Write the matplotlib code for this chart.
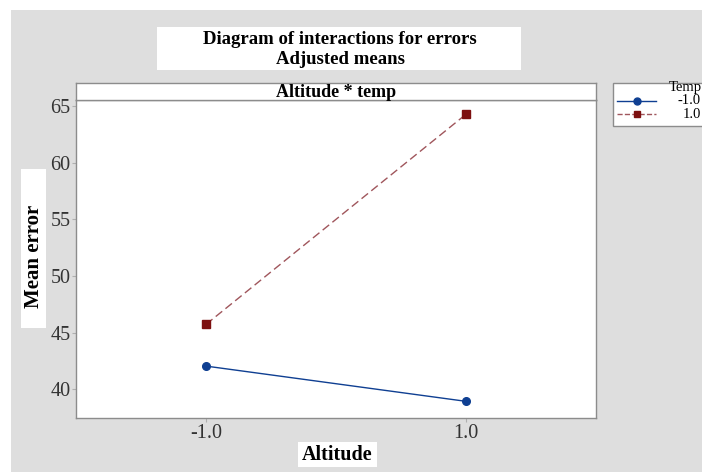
import matplotlib
matplotlib.use("Agg")
import matplotlib.pyplot as plt
from matplotlib.patches import Rectangle
from matplotlib.lines import Line2D

# Data
altitude = [-1.0, 1.0]
temp_levels = ["-1.0", "1.0"]
mean_temp_neg = [42.05, 38.94]
mean_temp_pos = [45.73, 64.27]
xtick_labels = ["-1.0", "1.0"]
yticks = [40, 45, 50, 55, 60, 65]

W, H = 702, 472
plt.rcParams['font.family'] = ['Liberation Serif', 'DejaVu Serif']

fig = plt.figure(figsize=(W / 100, H / 100), dpi=100)
fig.patch.set_facecolor('white')

def fx(px):
    return px / W

def fy(py):
    return 1 - py / H

bg = '#dedede'
edge = '#8c8c8c'
# gray background
fig.patches.append(Rectangle((fx(11), 0), 1 - fx(11), fy(10), transform=fig.transFigure,
                             facecolor=bg, edgecolor='none', zorder=-10))
# title box
fig.patches.append(Rectangle((fx(157), fy(70)), fx(521 - 157), (70 - 27) / H, transform=fig.transFigure,
                             facecolor='white', edgecolor='none', zorder=-5))
fig.text(fx(340), fy(39), "Diagram of interactions for errors", ha='center', va='center',
         fontsize=13.5, fontweight='bold')
fig.text(fx(340), fy(59), "Adjusted means", ha='center', va='center',
         fontsize=13.5, fontweight='bold')

# main axes
L, R, T, B = 76, 596, 100, 418
ax = fig.add_axes([fx(L), fy(B), fx(R - L), (B - T) / H])
ax.set_facecolor('white')
blue = '#0f3f92'
red_line = '#a0565c'
red_mark = '#7d1010'
l1, = ax.plot(altitude, mean_temp_neg, color=blue, lw=1.0, marker='o', markersize=5.5,
              markerfacecolor=blue, markeredgecolor=blue)
l2, = ax.plot(altitude, mean_temp_pos, color=red_line, lw=1.0, ls=(0, (6, 3)), marker='s',
              markersize=5.5, markerfacecolor=red_mark, markeredgecolor=red_mark)
ax.set_xlim(-2.0, 2.0)
ax.set_ylim(37.47, 65.53)
ax.set_xticks(altitude)
ax.set_xticklabels(xtick_labels)
ax.set_yticks(yticks)
for s in ax.spines.values():
    s.set_color(edge)
    s.set_linewidth(1.0)
ax.tick_params(axis='both', direction='out', length=3, color='#b0b0b0', labelsize=14.5,
               labelcolor='#333333', pad=1)

# panel header
hx = fig.add_axes([fx(L), fy(T), fx(R - L), (T - 83) / H])
hx.set_facecolor('white')
hx.set_xticks([])
hx.set_yticks([])
for s in hx.spines.values():
    s.set_color(edge)
    s.set_linewidth(1.0)
hx.text(0.5, 0.42, "Altitude * temp", transform=hx.transAxes, ha='center', va='center',
        fontsize=13, fontweight='bold')

# axis labels with white boxes
fig.patches.append(Rectangle((fx(21), fy(328)), fx(46 - 21), (328 - 169) / H, transform=fig.transFigure,
                             facecolor='white', edgecolor='none', zorder=-5))
fig.text(fx(34), fy(256), "Mean error", rotation=90, ha='center', va='center',
         fontsize=15, fontweight='bold')
fig.patches.append(Rectangle((fx(298), fy(467)), fx(377 - 298), (467 - 442) / H, transform=fig.transFigure,
                             facecolor='white', edgecolor='none', zorder=-5))
fig.text(fx(337.5), fy(455), "Altitude", ha='center', va='center',
         fontsize=14.5, fontweight='bold')

# legend
fig.patches.append(Rectangle((fx(613), fy(126)), fx(720 - 613), (126 - 83) / H, transform=fig.transFigure,
                             facecolor='white', edgecolor=edge, lw=1.0, zorder=-5))
fig.text(fx(702), fy(88), "Temp", ha='right', va='center', fontsize=10.5)
for yy, line, lab in [(101, l1, temp_levels[0]), (114, l2, temp_levels[1])]:
    fig.lines.append(Line2D([fx(617), fx(656)], [fy(yy), fy(yy)], transform=fig.transFigure,
                            color=line.get_color(), lw=1.0, ls=line.get_linestyle()))
    fig.lines.append(Line2D([fx(636.5)], [fy(yy)], transform=fig.transFigure, marker=line.get_marker(),
                            markersize=5, markerfacecolor=line.get_markerfacecolor(),
                            markeredgecolor=line.get_markeredgecolor(), ls='none'))
    fig.text(fx(701), fy(yy), lab, ha='right', va='center', fontsize=10.5)

fig.savefig("out.png", dpi=100)
